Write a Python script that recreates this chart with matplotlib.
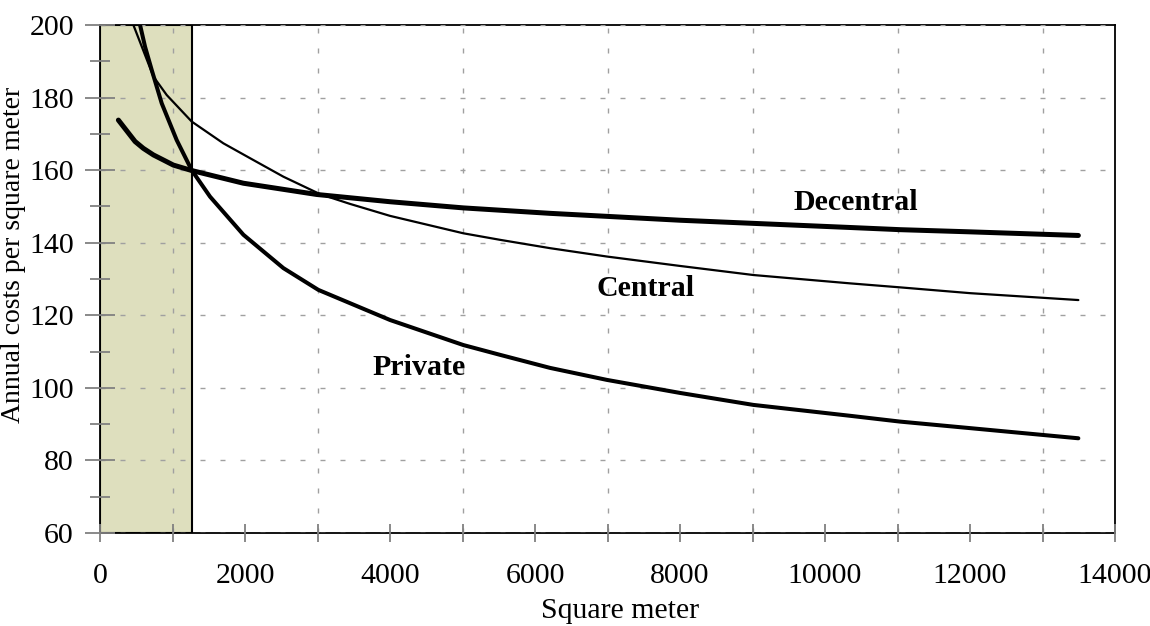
import matplotlib.pyplot as plt
from matplotlib.ticker import MultipleLocator

plt.rcParams['font.family'] = ['Liberation Serif', 'DejaVu Serif']

# data (square meter, annual cost per m2)
x_dec = [253, 483, 598, 736, 874, 1011, 1264, 1977, 2989, 4000, 5011, 6207, 8000, 10345, 11034, 12000, 13494]
y_dec = [173.8, 167.9, 166.0, 164.2, 162.8, 161.4, 159.9, 156.4, 153.3, 151.3, 149.6, 148.1, 146.2, 144.2, 143.6, 143.0, 142.0]

x_cen = [460, 600, 736, 920, 1264, 1701, 2069, 2529, 3034, 3448, 4000, 5011, 5517, 6207, 6989, 8000, 9011, 10345, 11034, 12000, 13494]
y_cen = [200, 192.8, 185.8, 180.7, 173.4, 167.4, 163.3, 158.2, 153.4, 150.7, 147.4, 142.6, 140.8, 138.5, 136.2, 133.6, 131.1, 128.8, 127.7, 126.1, 124.2]

x_pri = [552, 621, 713, 851, 1057, 1264, 1517, 1977, 2529, 3011, 4000, 5011, 5517, 6207, 6989, 8000, 9011, 10345, 11034, 12000, 13494]
y_pri = [200, 194, 187.6, 178.4, 168.3, 160, 152.7, 142.2, 133.0, 127, 118.7, 111.8, 109.1, 105.5, 102.2, 98.6, 95.3, 92.3, 90.7, 88.9, 86.1]

labels = ['Decentral', 'Central', 'Private']
label_x = [10428, 7531, 4400]
label_y = [149.0, 125.2, 103.6]

span_end = 1275

fig = plt.figure(figsize=(11.5, 6.26), dpi=100)
ax = fig.add_axes([0.087, 0.1486, 0.8826, 0.8114])

ax.axvspan(0, span_end, facecolor='#dedfbe', edgecolor='black', linewidth=1.5, zorder=1)

ax.plot(x_dec, y_dec, color='black', lw=3.6, solid_capstyle='round', solid_joinstyle='round', zorder=3)
ax.plot(x_cen, y_cen, color='black', lw=1.6, solid_capstyle='round', solid_joinstyle='round', zorder=3)
ax.plot(x_pri, y_pri, color='black', lw=2.9, solid_capstyle='round', solid_joinstyle='round', zorder=3)

for t, tx, ty in zip(labels, label_x, label_y):
    ax.text(tx, ty, t, fontsize=21.5, fontweight='bold', ha='center', va='baseline', zorder=4)

ax.set_xlim(0, 14000)
ax.set_ylim(60, 200)
ax.xaxis.set_major_locator(MultipleLocator(2000))
ax.xaxis.set_minor_locator(MultipleLocator(1000))
ax.yaxis.set_major_locator(MultipleLocator(20))
ax.yaxis.set_minor_locator(MultipleLocator(10))

ax.grid(which='major', axis='y', color='#a0a0a0', linestyle=(0, (3.6, 10.8)), linewidth=1, zorder=2)
ax.grid(which='minor', axis='x', color='#a0a0a0', linestyle=(0, (3.6, 10.8)), linewidth=1, zorder=2)
ax.set_axisbelow(False)

ax.tick_params(which='both', direction='inout', width=1.3, color='#808080', labelsize=21.5)
ax.tick_params(axis='y', which='major', length=21.6, pad=8)
ax.tick_params(axis='y', which='minor', length=14.4)
ax.tick_params(axis='x', which='both', length=13, pad=15)

for s in ax.spines.values():
    s.set_linewidth(1.3)

ax.set_xlabel('Square meter', fontsize=21.5)
ax.xaxis.set_label_coords(0.512, -0.128)
ax.set_ylabel('Annual costs per square meter', fontsize=20)
ax.yaxis.set_label_coords(-0.073, 0.548)

fig.savefig('out.png', dpi=100)
